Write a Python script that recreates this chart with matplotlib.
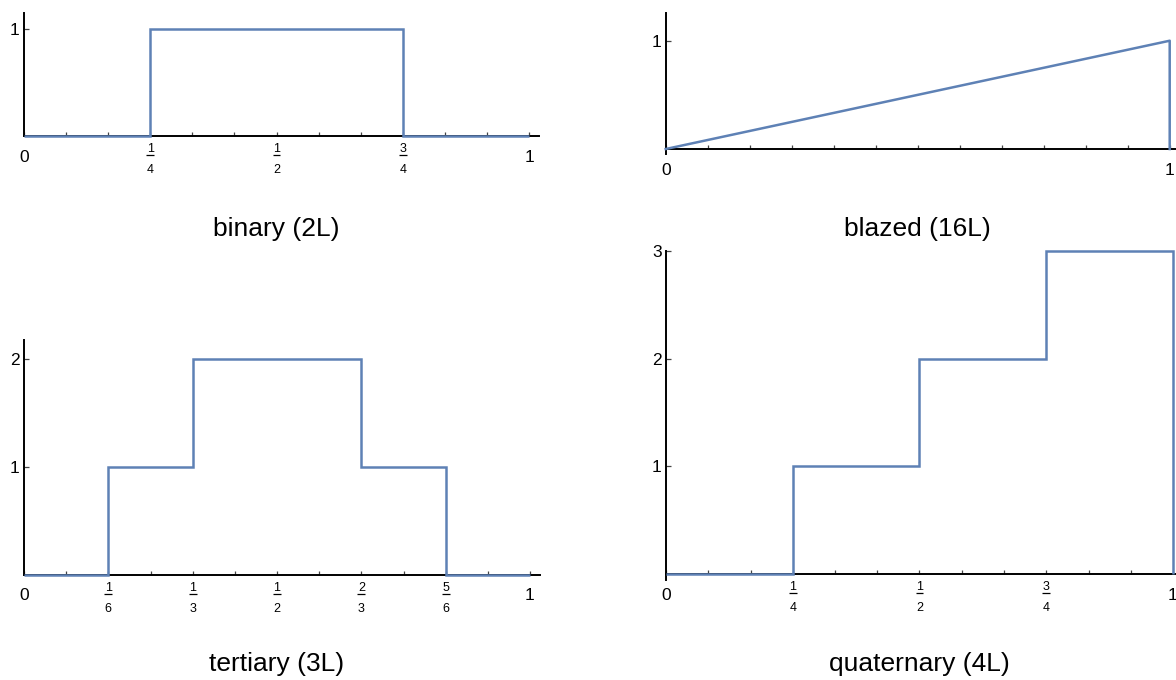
import matplotlib
matplotlib.use("Agg")
import matplotlib.pyplot as plt
from matplotlib.transforms import offset_copy, blended_transform_factory

plt.rcParams['font.family'] = ['Liberation Sans', 'DejaVu Sans']

W, H = 1176, 680
LINE = '#5E81B5'

# ---- data ----
binary_edges = [0, 1/4, 3/4, 1]
binary_levels = [0, 1, 0]
binary_xticks = [0, 1/4, 1/2, 3/4, 1]
binary_xlabels = ["0", "1/4", "1/2", "3/4", "1"]
binary_yticks = [1]

blazed_x = [0, 1, 1]
blazed_y = [0, 1, 0]
blazed_xticks = [0, 1]
blazed_xlabels = ["0", "1"]
blazed_yticks = [1]

tertiary_edges = [0, 1/6, 1/3, 2/3, 5/6, 1]
tertiary_levels = [0, 1, 2, 1, 0]
tertiary_xticks = [0, 1/6, 1/3, 1/2, 2/3, 5/6, 1]
tertiary_xlabels = ["0", "1/6", "1/3", "1/2", "2/3", "5/6", "1"]
tertiary_yticks = [1, 2]

quaternary_edges = [0, 1/4, 1/2, 3/4, 1]
quaternary_levels = [0, 1, 2, 3]
quaternary_xticks = [0, 1/4, 1/2, 3/4, 1]
quaternary_xlabels = ["0", "1/4", "1/2", "3/4", "1"]
quaternary_yticks = [1, 2, 3]

titles = ["binary (2L)", "blazed (16L)", "tertiary (3L)", "quaternary (4L)"]
minor_ticks = [k / 12 for k in range(13)]

fig = plt.figure(figsize=(W / 100, H / 100), dpi=100)


def make_ax(left_px, unit_px, xmax, ylim, y0_px, top_px):
    width_px = unit_px * xmax
    ax = fig.add_axes([left_px / W, 1 - y0_px / H, width_px / W, (y0_px - top_px) / H])
    ax.set_xlim(0, xmax)
    ax.set_ylim(*ylim)
    for s in ['top', 'right']:
        ax.spines[s].set_visible(False)
    ax.spines['bottom'].set_position(('data', 0))
    for s in ['left', 'bottom']:
        ax.spines[s].set_linewidth(1.4)
        ax.spines[s].set_color('black')
    ax.patch.set_alpha(0)
    return ax


def style(ax, xticks, xlabels, yticks):
    ax.set_xticks(minor_ticks)
    ax.tick_params(axis='x', direction='in', length=2.8, width=0.9, color='#444444',
                   labelbottom=False)
    ax.set_yticks(yticks)
    ax.set_yticklabels([str(v) for v in yticks])
    ax.tick_params(axis='y', direction='in', length=3.8, width=0.9, color='#444444',
                   labelsize=12.5, pad=3.0)
    for x, lab in zip(xticks, xlabels):
        if '/' in lab:
            num, den = lab.split('/')
            t1 = offset_copy(ax.transData, fig=fig, x=0, y=-13, units='dots')
            ax.text(x, 0, num, transform=t1, ha='center', va='center', fontsize=9,
                    clip_on=False)
            t2 = offset_copy(ax.transData, fig=fig, x=0, y=-18.5, units='dots')
            dx = 3.9 / (ax.get_position().width * W / ax.get_xlim()[1])
            ax.plot([x - dx, x + dx], [0, 0], transform=t2, color='black', lw=0.9,
                    clip_on=False, solid_capstyle='butt')
            t3 = offset_copy(ax.transData, fig=fig, x=0, y=-34, units='dots')
            ax.text(x, 0, den, transform=t3, ha='center', va='center', fontsize=9,
                    clip_on=False)
        else:
            t = offset_copy(ax.transData, fig=fig, x=0, y=-21, units='dots')
            ax.text(x, 0, lab, transform=t, ha='center', va='center', fontsize=12.5,
                    clip_on=False)


def title(ax, text, baseline_px):
    tr = blended_transform_factory(ax.transData, fig.transFigure)
    ax.text(0.5, 1 - baseline_px / H, text, transform=tr, ha='center', va='baseline',
            fontsize=19, clip_on=False)


# binary
ax1 = make_ax(24, 505, 1.02, (0, 1.155), 136.3, 12.7)
ax1.stairs(binary_levels, binary_edges, baseline=0, color=LINE, lw=1.8, zorder=3,
           clip_on=False)
style(ax1, binary_xticks, binary_xlabels, binary_yticks)
title(ax1, titles[0], 236)

# blazed
ax2 = make_ax(665.7, 504, 1.02, (-0.046, 1.256), 154, 13)
ax2.plot(blazed_x, blazed_y, color=LINE, lw=1.8, zorder=3, clip_on=False)
style(ax2, blazed_xticks, blazed_xlabels, blazed_yticks)
title(ax2, titles[1], 236)

# tertiary
ax3 = make_ax(24, 506, 1.02, (0, 2.176), 575, 340)
ax3.stairs(tertiary_levels, tertiary_edges, baseline=0, color=LINE, lw=1.8, zorder=3,
           clip_on=False)
style(ax3, tertiary_xticks, tertiary_xlabels, tertiary_yticks)
title(ax3, titles[2], 671)

# quaternary
ax4 = make_ax(666, 507, 1.02, (-0.053, 3.0), 580, 250.7)
ax4.stairs(quaternary_levels, quaternary_edges, baseline=0, color=LINE, lw=1.8, zorder=3,
           clip_on=False)
style(ax4, quaternary_xticks, quaternary_xlabels, quaternary_yticks)
title(ax4, titles[3], 671)

fig.savefig("out.png", dpi=100)
